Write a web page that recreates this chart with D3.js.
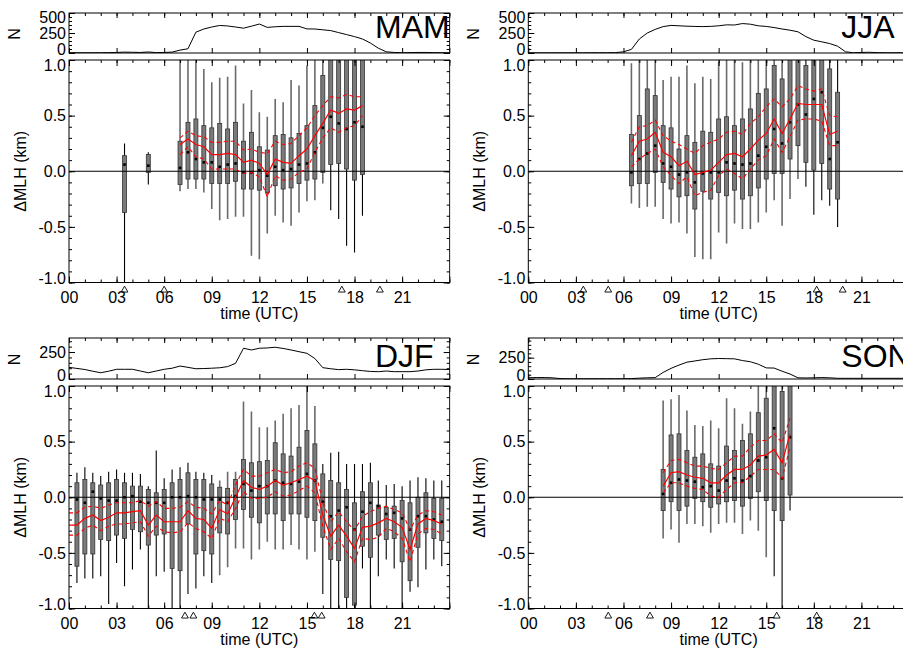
<!DOCTYPE html>
<html lang="en">
<head>
<meta charset="UTF-8">
<title>MLH diurnal cycle</title>
<script src="https://cdn.jsdelivr.net/npm/d3@7"></script>
<style>
  body { margin: 0; background: #fff; }
  svg { display: block; }
</style>
</head>
<body>
<script>
// ---- data: box statistics of delta MLH (km) per half-hour bin ----
const MAM_HOURS = [3.5, 5, 7, 7.5, 8, 8.5, 9, 9.5, 10, 10.5, 11, 11.5, 12, 12.5, 13, 13.5, 14, 14.5, 15, 15.5, 16, 16.5, 17, 17.5, 18, 18.5];
const MAM_HI  = [0.25, 0.17, 1.3, 1.3, 1.0, 0.92, 0.80, 0.84, 0.85, 0.95, 0.61, 0.73, 0.53, 0.49, 0.65, 0.62, 0.82, 0.77, 0.95, 1.3, 1.3, 1.5, 1.5, 1.5, 1.5, 1.5];
const MAM_Q3  = [0.14, 0.15, 0.27, 0.44, 0.47, 0.41, 0.39, 0.43, 0.38, 0.44, 0.27, 0.35, 0.22, 0.19, 0.32, 0.33, 0.30, 0.34, 0.41, 0.59, 0.86, 1.2, 1.2, 1.2, 1.2, 1.2];
const MAM_MED = [0.06, 0.05, 0.03, 0.17, 0.11, 0.08, 0.08, 0.04, 0.06, 0.07, -0.01, -0.01, 0.01, -0.04, 0.04, 0.01, 0.02, 0.06, 0.07, 0.17, 0.39, 0.49, 0.43, 0.38, 0.44, 0.40];
const MAM_Q1  = [-0.37, -0.01, -0.12, -0.07, -0.07, -0.07, -0.11, -0.11, -0.11, -0.09, -0.16, -0.16, -0.17, -0.19, -0.13, -0.16, -0.15, -0.11, -0.08, -0.07, -0.01, 0.06, 0.07, 0.02, -0.08, -0.03];
const MAM_LO  = [-1.3, -0.12, -0.18, -0.16, -0.16, -0.19, -0.34, -0.44, -0.43, -0.41, -0.41, -0.76, -0.79, -0.56, -0.40, -0.46, -0.49, -0.37, -0.27, -0.26, -0.11, -0.35, -0.43, -0.67, -0.73, -0.40];
const MAM_MEAN = [null, null, 0.24, 0.29, 0.24, 0.22, 0.15, 0.15, 0.16, 0.15, 0.08, 0.10, 0.07, -0.03, 0.11, 0.08, 0.07, 0.14, 0.20, 0.32, 0.43, 0.55, 0.52, 0.56, 0.55, 0.59];
const MAM_UP   = [null, null, 0.30, 0.36, 0.32, 0.31, 0.26, 0.26, 0.27, 0.27, 0.19, 0.20, 0.17, 0.16, 0.27, 0.24, 0.25, 0.32, 0.39, 0.50, 0.59, 0.67, 0.66, 0.69, 0.67, 0.67];
const MAM_DN   = [null, null, 0.15, 0.22, 0.13, 0.11, 0.02, 0.02, 0.02, 0.02, -0.02, -0.01, -0.05, -0.23, -0.04, -0.08, -0.07, -0.01, 0.02, 0.17, 0.30, 0.39, 0.35, 0.39, 0.41, 0.50];

const JJA_HOURS = [6.5, 7, 7.5, 8, 8.5, 9, 9.5, 10, 10.5, 11, 11.5, 12, 12.5, 13, 13.5, 14, 14.5, 15, 15.5, 16, 16.5, 17, 17.5, 18, 18.5, 19, 19.5];
const JJA_HI  = [0.97, 1.3, 1.3, 1.3, 0.82, 0.85, 0.85, 0.95, 0.79, 0.85, 0.83, 0.98, 1.3, 1.3, 0.98, 1.3, 1.3, 1.3, 1.3, 1.3, 1.5, 1.5, 1.3, 1.5, 1.5, 1.3, 1.3];
const JJA_Q3  = [0.33, 0.50, 0.74, 0.68, 0.41, 0.39, 0.20, 0.32, 0.26, 0.36, 0.35, 0.47, 0.49, 0.41, 0.47, 0.56, 0.70, 0.74, 0.95, 0.83, 1.2, 1.2, 0.95, 1.2, 1.2, 0.92, 0.71];
const JJA_MED = [-0.01, 0.11, 0.16, 0.23, 0.07, 0.04, -0.03, -0.01, -0.10, -0.02, -0.01, -0.01, 0.08, 0.07, 0.06, 0.07, 0.14, 0.22, 0.38, 0.25, 0.44, 0.60, 0.51, 0.65, 0.71, 0.11, 0.26];
const JJA_Q1  = [-0.13, -0.11, -0.11, -0.01, -0.10, -0.16, -0.23, -0.22, -0.34, -0.18, -0.25, -0.19, -0.22, -0.17, -0.25, -0.22, -0.15, -0.07, -0.02, -0.02, 0.11, 0.23, 0.08, 0.01, 0.07, -0.16, -0.25];
const JJA_LO  = [-0.29, -0.33, -0.32, -0.32, -0.43, -0.47, -0.46, -0.56, -0.77, -0.79, -0.79, -0.55, -0.65, -0.47, -0.52, -0.52, -0.46, -0.37, -0.26, -0.49, -0.25, -0.07, -0.14, -0.39, -0.26, -0.31, -0.50];
const JJA_MEAN = [0.14, 0.27, 0.29, 0.35, 0.17, 0.13, 0.05, 0.09, -0.03, -0.01, 0.01, 0.08, 0.15, 0.16, 0.13, 0.20, 0.28, 0.34, 0.47, 0.34, 0.47, 0.61, 0.60, 0.60, 0.60, 0.33, 0.36];
const JJA_UP   = [0.26, 0.40, 0.41, 0.46, 0.32, 0.27, 0.24, 0.20, 0.16, 0.23, 0.26, 0.29, 0.35, 0.36, 0.33, 0.43, 0.49, 0.58, 0.65, 0.58, 0.65, 0.77, 0.74, 0.72, 0.74, 0.50, 0.49];
const JJA_DN   = [0.04, 0.11, 0.16, 0.20, 0.04, -0.04, -0.11, -0.05, -0.22, -0.19, -0.17, -0.04, 0.02, -0.02, -0.07, 0.02, 0.10, 0.14, 0.29, 0.17, 0.31, 0.46, 0.47, 0.47, 0.45, 0.23, 0.23];

const DJF_HOURS = [0, 0.5, 1, 1.5, 2, 2.5, 3, 3.5, 4, 4.5, 5, 5.5, 6, 6.5, 7, 7.5, 8, 8.5, 9, 9.5, 10, 10.5, 11, 11.5, 12, 12.5, 13, 13.5, 14, 14.5, 15, 15.5, 16, 16.5, 17, 17.5, 18, 18.5, 19, 19.5, 20, 20.5, 21, 21.5, 22, 22.5, 23, 23.5];
const DJF_HI  = [null, 0.22, 0.27, 0.22, 0.19, 0.23, 0.25, 0.22, 0.22, 0.21, 0.10, 0.42, 0.17, 0.25, 0.27, 0.31, 0.23, 0.22, 0.20, 0.15, 0.23,
                 0.23, 0.86, 0.77, 0.63, 0.63, 0.69, 0.75, 0.80, 0.83, 1.05, 0.82, 0.30, 0.40, 0.41, 0.30, 0.30, 0.30, 0.31,
                 0.15, 0.11, 0.12, 0.10, 0.15, 0.18, 0.17, 0.15, 0.15];
const DJF_Q3  = [null, 0.13, 0.16, 0.13, 0.11, 0.13, 0.16, 0.13, 0.10, 0.10, 0.07, 0.04, 0.07, 0.13, 0.16, 0.22, 0.16, 0.16, 0.12, 0.09, 0.08,
                 0.16, 0.34, 0.31, 0.32, 0.33, 0.49, 0.39, 0.37, 0.45, 0.60, 0.48, 0.21, 0.15, 0.13, 0.07, -0.05, 0.05, 0.13,
                 -0.07, -0.09, -0.08, -0.03, -0.05, 0.00, 0.04, -0.01, -0.01];
const DJF_MED = [null, -0.02, -0.05, 0.05, -0.01, -0.03, -0.03, 0.00, 0.01, -0.04, -0.05, -0.05, -0.05, 0.00, 0.00, 0.01, 0.00, -0.02, -0.02, -0.02, -0.05,
                 0.01, 0.12, 0.06, 0.10, 0.10, 0.15, 0.13, 0.12, 0.14, 0.21, 0.15, -0.04, -0.17, -0.12, -0.09, -0.29, -0.13, -0.05,
                 -0.08, -0.15, -0.14, -0.19, -0.29, -0.17, -0.17, -0.20, -0.22];
const DJF_Q1  = [null, -0.62, -0.51, -0.51, -0.38, -0.39, -0.34, -0.37, -0.29, -0.31, -0.43, -0.34, -0.33, -0.64, -0.66, -0.24, -0.51, -0.48, -0.51, -0.32, -0.33,
                 -0.20, -0.11, -0.18, -0.23, -0.15, -0.15, -0.21, -0.15, -0.15, -0.18, -0.21, -0.36, -0.56, -0.57, -0.90, -0.97, -0.44, -0.54,
                 -0.34, -0.38, -0.37, -0.58, -0.75, -0.45, -0.32, -0.37, -0.39];
const DJF_LO  = [null, -0.77, -0.73, -0.73, -0.71, -0.96, -0.59, -0.80, -0.65, -0.47, -1.3, -0.71, -0.67, -1.3, -1.3, -0.87, -0.82, -0.71, -0.77, -0.70, -0.63,
                 -0.46, -0.46, -0.56, -0.47, -0.40, -0.47, -0.47, -0.43, -0.47, -0.56, -0.49, -0.87, -1.3, -1.3, -1.3, -1.3, -0.64, -1.3,
                 -0.71, -0.56, -0.64, -1.3, -0.85, -0.81, -0.65, -0.56, -0.62];
const DJF_MEAN = [-0.25, -0.25, -0.19, -0.16, -0.21, -0.18, -0.14, -0.14, -0.13, -0.12, -0.25, -0.16, -0.22, -0.22, -0.22, -0.12, -0.19, -0.20, -0.28, -0.11, -0.15,
                  0.00, 0.15, 0.09, 0.07, 0.10, 0.15, 0.11, 0.13, 0.16, 0.19, 0.15, -0.16, -0.35, -0.25, -0.35, -0.46, -0.27, -0.26,
                  -0.23, -0.19, -0.22, -0.27, -0.47, -0.24, -0.19, -0.21, -0.24];
const DJF_UP   = [-0.14, -0.14, -0.09, -0.08, -0.10, -0.07, -0.05, -0.05, -0.05, -0.03, -0.08, -0.04, -0.10, -0.10, -0.09, -0.04, -0.09, -0.10, -0.15, -0.03, -0.07,
                  0.11, 0.25, 0.19, 0.19, 0.22, 0.25, 0.22, 0.23, 0.28, 0.31, 0.26, -0.05, -0.22, -0.13, -0.22, -0.30, -0.17, -0.13,
                  -0.10, -0.08, -0.11, -0.14, -0.29, -0.16, -0.12, -0.13, -0.16];
const DJF_DN   = [-0.34, -0.34, -0.28, -0.25, -0.30, -0.26, -0.24, -0.24, -0.23, -0.22, -0.35, -0.26, -0.31, -0.32, -0.31, -0.23, -0.28, -0.31, -0.37, -0.19, -0.22,
                  -0.10, 0.05, -0.01, -0.01, 0.00, 0.05, 0.01, 0.02, 0.06, 0.10, 0.04, -0.26, -0.47, -0.37, -0.49, -0.58, -0.37, -0.38,
                  -0.36, -0.28, -0.31, -0.37, -0.58, -0.33, -0.28, -0.29, -0.33];

const SON_HOURS = [8.5, 9, 9.5, 10, 10.5, 11, 11.5, 12, 12.5, 13, 13.5, 14, 14.5, 15, 15.5, 16, 16.5];
const SON_HI  = [0.87, 0.88, 0.92, 0.78, 0.65, 0.64, 0.69, 0.62, 0.89, 0.80, 0.66, 0.77, 1.3, 1.3, 1.3, 1.3, 1.3];
const SON_Q3  = [0.25, 0.56, 0.57, 0.42, 0.36, 0.39, 0.30, 0.28, 0.46, 0.42, 0.51, 0.57, 0.76, 0.89, 1.2, 0.95, 1.2];
const SON_MED = [0.03, 0.13, 0.16, 0.15, 0.14, 0.09, 0.10, 0.06, 0.15, 0.17, 0.15, 0.19, 0.33, 0.36, 0.62, 0.17, 0.54];
const SON_Q1  = [-0.12, -0.04, -0.12, -0.08, -0.01, -0.04, -0.09, -0.06, -0.04, -0.03, -0.08, -0.01, 0.05, -0.03, -0.12, -0.21, 0.02];
const SON_LO  = [-0.37, -0.29, -0.41, -0.24, -0.24, -0.26, -0.32, -0.24, -0.23, -0.23, -0.33, -0.21, -0.30, -0.54, -0.71, -1.3, -0.12];
const SON_MEAN = [0.10, 0.22, 0.23, 0.20, 0.18, 0.17, 0.13, 0.13, 0.20, 0.25, 0.25, 0.29, 0.37, 0.38, 0.43, 0.31, 0.57];
const SON_UP   = [0.22, 0.33, 0.34, 0.31, 0.28, 0.28, 0.26, 0.25, 0.31, 0.37, 0.37, 0.45, 0.51, 0.51, 0.57, 0.49, 0.71];
const SON_DN   = [0.04, 0.13, 0.13, 0.10, 0.08, 0.07, 0.01, 0.00, 0.07, 0.13, 0.13, 0.19, 0.25, 0.25, 0.25, 0.17, 0.45];

// number of samples, every half hour from 00 to 24 UTC
const N_HOURS = d3.range(0, 24.5, 0.5);
const MAM_N = [3, 3, 3, 3, 3, 5, 7, 11, 9, 7, 13, 5, 7, 11, 36, 53, 260, 300, 325, 344, 338, 325, 310, 335, 362, 320, 328, 333, 333, 333, 301, 300, 290, 280, 255, 230, 205, 175, 125, 60, 15, 7, 3, 5, 7, 7, 5, 4, 2];
const JJA_N = [2, 2, 2, 2, 2, 2, 2, 2, 3, 3, 3, 5, 15, 45, 175, 250, 295, 330, 345, 340, 335, 332, 330, 333, 340, 352, 350, 368, 360, 340, 332, 318, 300, 285, 265, 205, 160, 140, 118, 85, 15, 3, 7, 9, 5, 3, 3, 3, 3];
const DJF_N = [108, 98, 88, 72, 58, 72, 90, 90, 90, 74, 58, 74, 90, 100, 120, 108, 95, 97, 100, 104, 115, 145, 285, 269, 285, 288, 294, 283, 269, 253, 238, 190, 105, 95, 87, 90, 85, 77, 70, 68, 74, 68, 68, 68, 74, 85, 90, 90, 88];
const SON_N = [15, 17, 17, 14, 5, 3, 3, 3, 3, 3, 3, 3, 3, 5, 10, 14, 16, 77, 125, 163, 197, 211, 226, 236, 240, 238, 236, 216, 202, 173, 130, 128, 91, 58, 14, 12, 14, 17, 14, 8, 8, 8, 8, 8, 8, 8, 8, 8, 8];

// triangle markers on the time axis
const MAM_TRI = [3.5, 6.0, 17.2, 19.6];
const JJA_TRI = [3.47, 5.04, 18.18, 19.82];
const DJF_TRI = [7.31, 7.84, 15.47, 15.93];
const SON_TRI = [5.04, 7.67, 15.66, 18.18];

// hours whose whiskers are drawn grey
const MAM_DAY = [7, 16];
const JJA_DAY = [6.5, 17];
const DJF_DAY = [9.5, 15.5];
const SON_DAY = [8.5, 15];

const X_MAJOR = [0, 3, 6, 9, 12, 15, 18, 21, 24];
const Y_MAJOR = [-1, -0.5, 0, 0.5, 1];

// ---- layout ----
const FONT = '"Liberation Sans", Arial, Helvetica, sans-serif';
const COL_X0 = [69, 528.3];
const PLOT_W = 380.7;
const ROW_TOP = [60, 386];
const PLOT_H = 222.5;
const N_TOP = [13, 338];
const N_BOT = [53, 379];
const NAME_DX = [306, 313];
const NAME_Y = [38.3, 366.7];

const panels = [
  {name: "MAM", col: 0, row: 0, hours: MAM_HOURS, hi: MAM_HI, q3: MAM_Q3, med: MAM_MED, q1: MAM_Q1, lo: MAM_LO, mean: MAM_MEAN, up: MAM_UP, dn: MAM_DN, n: MAM_N, nMax: 500, nLabels: [0, 250, 500], tri: MAM_TRI, day: MAM_DAY},
  {name: "JJA", col: 1, row: 0, hours: JJA_HOURS, hi: JJA_HI, q3: JJA_Q3, med: JJA_MED, q1: JJA_Q1, lo: JJA_LO, mean: JJA_MEAN, up: JJA_UP, dn: JJA_DN, n: JJA_N, nMax: 500, nLabels: [0, 250, 500], tri: JJA_TRI, day: JJA_DAY},
  {name: "DJF", col: 0, row: 1, hours: DJF_HOURS, hi: DJF_HI, q3: DJF_Q3, med: DJF_MED, q1: DJF_Q1, lo: DJF_LO, mean: DJF_MEAN, up: DJF_UP, dn: DJF_DN, n: DJF_N, nMax: 380, nLabels: [0, 250], tri: DJF_TRI, day: DJF_DAY},
  {name: "SON", col: 1, row: 1, hours: SON_HOURS, hi: SON_HI, q3: SON_Q3, med: SON_MED, q1: SON_Q1, lo: SON_LO, mean: SON_MEAN, up: SON_UP, dn: SON_DN, n: SON_N, nMax: 480, nLabels: [0, 250], tri: SON_TRI, day: SON_DAY}
];

const svg = d3.select("body").append("svg")
  .attr("width", 903).attr("height", 649)
  .attr("font-family", FONT);
const defs = svg.append("defs");
defs.append("clipPath").attr("id", "col0").append("rect")
  .attr("x", 0).attr("y", 0).attr("width", 450.5).attr("height", 649);
defs.append("clipPath").attr("id", "col1").append("rect")
  .attr("x", 450.5).attr("y", 0).attr("width", 453).attr("height", 649);

const fmt1 = d => d.toFixed(1);
const fmtHour = d => d < 24 ? String(d).padStart(2, "0") : "";

function styleAxis(sel) {
  sel.select(".domain").remove();
  sel.attr("font-size", 16).attr("font-family", FONT);
  sel.selectAll(".tick line").attr("stroke", "#000").attr("stroke-width", 1);
  sel.selectAll(".tick text").attr("fill", "#000");
}

function drawPanel(p, i) {
  const x0 = COL_X0[p.col];
  const top = ROW_TOP[p.row], bot = top + PLOT_H;
  const x = d3.scaleLinear().domain([0, 24]).range([x0, x0 + PLOT_W]);
  const y = d3.scaleLinear().domain([-1, 1]).range([bot, top]);
  const nTop = N_TOP[p.row], nBot = N_BOT[p.row];
  const yN = d3.scaleLinear().domain([0, p.nMax]).range([nBot, nTop]);

  defs.append("clipPath").attr("id", "plot" + i).append("rect")
    .attr("x", x0).attr("y", top).attr("width", PLOT_W).attr("height", PLOT_H);
  defs.append("clipPath").attr("id", "nplot" + i).append("rect")
    .attr("x", x0).attr("y", nTop).attr("width", PLOT_W).attr("height", nBot - nTop);

  const g = svg.append("g").attr("clip-path", `url(#col${p.col})`);

  // ---- box plot panel ----
  const rows = p.hours.map((h, k) => ({
    h, hi: p.hi[k], q3: p.q3[k], med: p.med[k], q1: p.q1[k], lo: p.lo[k],
    mean: p.mean[k], up: p.up[k], dn: p.dn[k]
  }));
  const boxes = rows.filter(d => d.lo != null);
  const isDay = d => d.h >= p.day[0] && d.h <= p.day[1];

  const plot = g.append("g").attr("clip-path", `url(#plot${i})`);

  plot.append("g").selectAll("line").data(boxes).join("line")
    .attr("x1", d => x(d.h)).attr("x2", d => x(d.h))
    .attr("y1", d => y(d.lo)).attr("y2", d => y(d.hi))
    .attr("stroke", d => isDay(d) ? "#6a6a6a" : "#000")
    .attr("stroke-width", d => isDay(d) ? 1.6 : 1.1);

  plot.append("g").selectAll("rect").data(boxes).join("rect")
    .attr("x", d => x(d.h) - 2).attr("width", 4)
    .attr("y", d => y(d.q3)).attr("height", d => y(d.q1) - y(d.q3))
    .attr("fill", "#7a7a7a").attr("stroke", "#333").attr("stroke-width", 0.8);

  plot.append("g").selectAll("rect").data(boxes).join("rect")
    .attr("x", d => x(d.h) - 1.3).attr("width", 2.6)
    .attr("y", d => y(d.med) - 1.3).attr("height", 2.6)
    .attr("fill", "#000");

  plot.append("line")
    .attr("x1", x(0)).attr("x2", x(24)).attr("y1", y(0)).attr("y2", y(0))
    .attr("stroke", "#000").attr("stroke-width", 1);

  const redLine = key => d3.line()
    .defined(d => d[key] != null)
    .x(d => x(d.h)).y(d => y(d[key]));
  plot.append("path").datum(rows).attr("d", redLine("up"))
    .attr("fill", "none").attr("stroke", "#f00").attr("stroke-width", 1.1).attr("stroke-dasharray", "4,3");
  plot.append("path").datum(rows).attr("d", redLine("dn"))
    .attr("fill", "none").attr("stroke", "#f00").attr("stroke-width", 1.1).attr("stroke-dasharray", "4,3");
  plot.append("path").datum(rows).attr("d", redLine("mean"))
    .attr("fill", "none").attr("stroke", "#f00").attr("stroke-width", 1.2);

  // axes (ticks point inward)
  const xMinor = d3.range(0, 25, 1);
  const yMinor = d3.range(-10, 11, 1).map(v => v / 10);

  g.append("g").attr("transform", `translate(${x0},0)`)
    .call(d3.axisLeft(y).tickValues(Y_MAJOR).tickSize(-6).tickPadding(3).tickFormat(fmt1))
    .call(styleAxis)
    .call(s => s.selectAll(".tick text").attr("y", d => d === 1 ? 5 : d === -1 ? -4.5 : 0));
  g.append("g").attr("transform", `translate(${x0},0)`)
    .call(d3.axisLeft(y).tickValues(yMinor).tickSize(-3).tickFormat(""))
    .call(styleAxis);
  g.append("g").attr("transform", `translate(${x0 + PLOT_W},0)`)
    .call(d3.axisRight(y).tickValues(Y_MAJOR).tickSize(-6).tickFormat(""))
    .call(styleAxis);
  g.append("g").attr("transform", `translate(${x0 + PLOT_W},0)`)
    .call(d3.axisRight(y).tickValues(yMinor).tickSize(-3).tickFormat(""))
    .call(styleAxis);
  g.append("g").attr("transform", `translate(0,${bot})`)
    .call(d3.axisBottom(x).tickValues(X_MAJOR).tickSize(-6).tickPadding(9.5).tickFormat(fmtHour))
    .call(styleAxis);
  g.append("g").attr("transform", `translate(0,${bot})`)
    .call(d3.axisBottom(x).tickValues(xMinor).tickSize(-3).tickFormat(""))
    .call(styleAxis);
  g.append("g").attr("transform", `translate(0,${top})`)
    .call(d3.axisTop(x).tickValues(X_MAJOR).tickSize(-6).tickFormat(""))
    .call(styleAxis);
  g.append("g").attr("transform", `translate(0,${top})`)
    .call(d3.axisTop(x).tickValues(xMinor).tickSize(-3).tickFormat(""))
    .call(styleAxis);

  g.append("rect")
    .attr("x", x0).attr("y", top).attr("width", PLOT_W).attr("height", PLOT_H)
    .attr("fill", "none").attr("stroke", "#000").attr("stroke-width", 1);

  // triangles below the time axis
  g.append("g").selectAll("path").data(p.tri).join("path")
    .attr("d", d3.symbol(d3.symbolTriangle, 20))
    .attr("transform", d => `translate(${x(d)},${bot + 7.6})`)
    .attr("fill", "none").attr("stroke", "#000").attr("stroke-width", 0.9);

  g.append("text")
    .attr("x", (x0 + x0 + PLOT_W) / 2).attr("y", bot + 36.5)
    .attr("text-anchor", "middle").attr("font-size", 16)
    .text("time (UTC)");

  g.append("text")
    .attr("transform", `translate(${x0 - 43},${(top + bot) / 2}) rotate(-90)`)
    .attr("text-anchor", "middle").attr("font-size", 16)
    .text("\u0394MLH (km)");

  // ---- sample-count panel ----
  const nPlot = g.append("g").attr("clip-path", `url(#nplot${i})`);
  nPlot.append("path").datum(N_HOURS.map((h, k) => [h, p.n[k]]))
    .attr("d", d3.line().x(d => x(d[0])).y(d => yN(d[1])))
    .attr("fill", "none").attr("stroke", "#000").attr("stroke-width", 1);

  const nMinor = d3.range(0, p.nMax + 1, 50);
  g.append("g").attr("transform", `translate(${x0},0)`)
    .call(d3.axisLeft(yN).tickValues(p.nLabels).tickSize(-6).tickPadding(3).tickFormat(d3.format("d")))
    .call(styleAxis)
    .call(s => s.selectAll(".tick text").attr("y", d => d === 0 ? -3.5 : d === p.nMax ? 4 : 0));
  g.append("g").attr("transform", `translate(${x0},0)`)
    .call(d3.axisLeft(yN).tickValues(nMinor).tickSize(-3).tickFormat(""))
    .call(styleAxis);
  g.append("g").attr("transform", `translate(${x0 + PLOT_W},0)`)
    .call(d3.axisRight(yN).tickValues(p.nLabels).tickSize(-6).tickFormat(""))
    .call(styleAxis);
  g.append("g").attr("transform", `translate(${x0 + PLOT_W},0)`)
    .call(d3.axisRight(yN).tickValues(nMinor).tickSize(-3).tickFormat(""))
    .call(styleAxis);
  g.append("g").attr("transform", `translate(0,${nTop})`)
    .call(d3.axisTop(x).tickValues(X_MAJOR).tickSize(-5).tickFormat(""))
    .call(styleAxis);
  g.append("g").attr("transform", `translate(0,${nTop})`)
    .call(d3.axisTop(x).tickValues(xMinor).tickSize(-3).tickFormat(""))
    .call(styleAxis);
  g.append("g").attr("transform", `translate(0,${nBot})`)
    .call(d3.axisBottom(x).tickValues(X_MAJOR).tickSize(-5).tickFormat(""))
    .call(styleAxis);

  g.append("rect")
    .attr("x", x0).attr("y", nTop).attr("width", PLOT_W).attr("height", nBot - nTop)
    .attr("fill", "none").attr("stroke", "#000").attr("stroke-width", 1);

  g.append("text")
    .attr("transform", `translate(${x0 - 49},${(nTop + nBot) / 2 + 1}) rotate(-90)`)
    .attr("text-anchor", "middle").attr("font-size", 16)
    .text("N");

  g.append("text")
    .attr("x", x0 + NAME_DX[p.col]).attr("y", NAME_Y[p.row])
    .attr("font-size", 32)
    .text(p.name);
}

panels.forEach(drawPanel);
</script>
</body>
</html>
